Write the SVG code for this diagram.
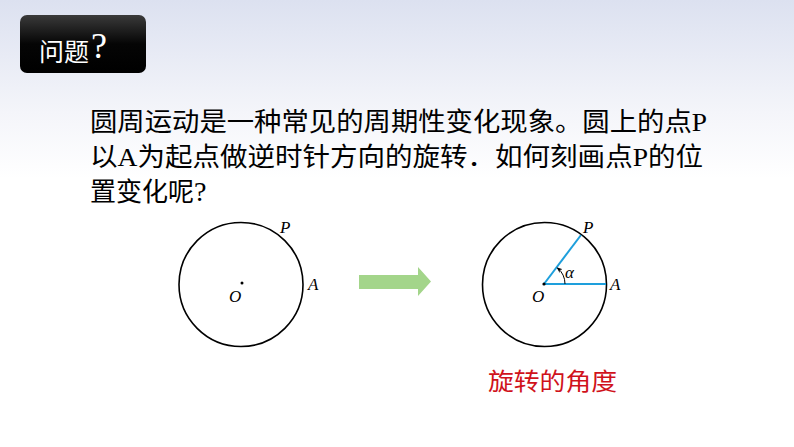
<svg xmlns="http://www.w3.org/2000/svg" width="794" height="447" viewBox="0 0 794 447">
<defs>
<linearGradient id="bg" x1="0" y1="0" x2="0" y2="1">
<stop offset="0" stop-color="#dce1f0"/>
<stop offset="0.25" stop-color="#f4f5fa"/>
<stop offset="0.4" stop-color="#ffffff"/>
</linearGradient>
<linearGradient id="tb" x1="0" y1="0" x2="0" y2="1">
<stop offset="0" stop-color="#3a3a3a"/>
<stop offset="0.5" stop-color="#050505"/>
<stop offset="1" stop-color="#000000"/>
</linearGradient>
<marker id="ah" viewBox="0 0 10 10" refX="8" refY="5" markerWidth="6" markerHeight="6" orient="auto" markerUnits="userSpaceOnUse">
<path d="M0,1 L10,5 L0,9 L3,5 Z" fill="#000"/>
</marker>
<style>
.body{font-family:"Liberation Serif","Noto Sans CJK SC",serif;font-size:26px;fill:#000}
.lbl{font-family:"Liberation Serif",serif;font-style:italic;font-size:17px;fill:#000}
.circ{fill:none;stroke:#000;stroke-width:1.6}
.blue{stroke:#1e9fdc;stroke-width:2;fill:none}
</style>
</defs>
<rect width="794" height="447" fill="url(#bg)"/>
<g id="title">
<rect x="20" y="15" width="126" height="58" rx="7" fill="url(#tb)"/>
<text x="39" y="61" font-family="Noto Sans CJK SC,sans-serif" font-size="25" fill="#fff">问题</text>
<text x="91" y="58" font-family="Liberation Serif,serif" font-size="36" fill="#fff">?</text>
</g>
<g id="question">
<text class="body" x="90" y="131" textLength="617" lengthAdjust="spacingAndGlyphs">圆周运动是一种常见的周期性变化现象。圆上的点P</text>
<text class="body" x="90" y="166" textLength="613" lengthAdjust="spacingAndGlyphs">以A为起点做逆时针方向的旋转．如何刻画点P的位</text>
<text class="body" x="90" y="201">置变化呢<tspan font-size="28">?</tspan></text>
</g>
<g id="circle1">
<circle class="circ" cx="241" cy="284.5" r="62"/>
<circle cx="242" cy="283" r="1.5" fill="#000"/>
<text class="lbl" x="229" y="302">O</text>
<text class="lbl" x="280" y="233">P</text>
<text class="lbl" x="308" y="290">A</text>
</g>
<g id="arrow">
<path d="M359,275 L418,275 L418,267 L431,281.5 L418,296 L418,289 L359,289 Z" fill="#a3d58a"/>
</g>
<g id="circle2">
<circle class="circ" cx="544.5" cy="284.5" r="62"/>
<line class="blue" x1="544" y1="284" x2="606" y2="284"/>
<line class="blue" x1="544" y1="284" x2="581" y2="235"/>
<circle cx="544" cy="284" r="1.6" fill="#000"/>
<path d="M565,284 A21,21 0 0 0 557.5,268" fill="none" stroke="#000" stroke-width="1" marker-end="url(#ah)"/>
<text class="lbl" x="565" y="278">α</text>
<text class="lbl" x="532" y="302">O</text>
<text class="lbl" x="583" y="233">P</text>
<text class="lbl" x="610" y="290">A</text>
</g>
<g id="caption">
<text x="488" y="390" font-family="Noto Sans CJK SC,sans-serif" font-size="24" fill="#d0121b" textLength="129" lengthAdjust="spacingAndGlyphs">旋转的角度</text>
</g>
</svg>
